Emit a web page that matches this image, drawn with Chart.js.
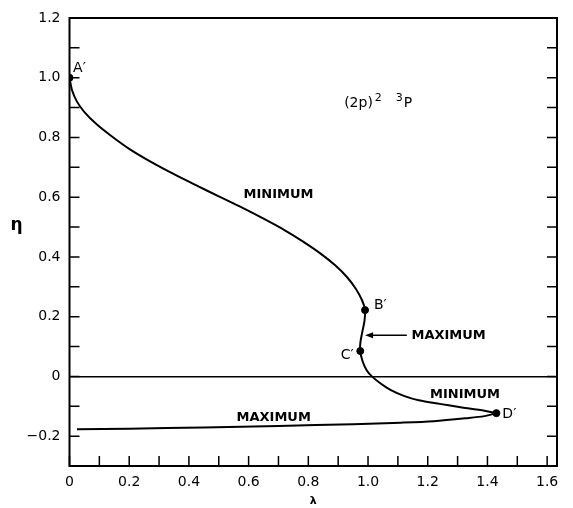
<!DOCTYPE html>
<html>
<head>
<meta charset="utf-8">
<script src="https://cdn.jsdelivr.net/npm/chart.js@4"></script>
<style>
  html, body { margin: 0; padding: 0; background: #fff; }
  canvas { display: block; }
</style>
</head>
<body>
<canvas id="curveChart" width="573" height="508"></canvas>
<script>
// upper branch: A' -> B' -> C' -> D'
const upperLambda = [0, 0.008, 0.025, 0.05, 0.09, 0.14, 0.2, 0.27, 0.35, 0.43, 0.5, 0.58, 0.65, 0.72, 0.78, 0.84, 0.89, 0.93, 0.96, 0.98, 0.99, 0.988, 0.98, 0.974, 0.974, 0.982, 0.996, 1.013, 1.04, 1.075, 1.12, 1.17, 1.24, 1.31, 1.37, 1.43];
const upperEta = [1.0, 0.96, 0.92, 0.885, 0.845, 0.805, 0.762, 0.72, 0.677, 0.637, 0.603, 0.564, 0.528, 0.49, 0.453, 0.412, 0.372, 0.332, 0.292, 0.255, 0.222, 0.185, 0.145, 0.11, 0.085, 0.05, 0.02, 0.0, -0.022, -0.045, -0.065, -0.08, -0.092, -0.103, -0.112, -0.123];

// lower branch: D' back towards lambda = 0
const lowerLambda = [1.43, 1.39, 1.33, 1.22, 1.11, 0.95, 0.7, 0.45, 0.2, 0.025];
const lowerEta = [-0.123, -0.133, -0.14, -0.15, -0.155, -0.16, -0.166, -0.171, -0.175, -0.177];

// marked points
const markerNames = ['A′', 'B′', 'C′', 'D′'];
const markerLambda = [0, 0.99, 0.974, 1.43];
const markerEta = [1.0, 0.222, 0.085, -0.123];

// tick labels
const xTickValues = [0, 0.2, 0.4, 0.6, 0.8, 1.0, 1.2, 1.4, 1.6];
const xTickLabels = ['0', '0.2', '0.4', '0.6', '0.8', '1.0', '1.2', '1.4', '1.6'];
const yTickValues = [-0.2, 0, 0.2, 0.4, 0.6, 0.8, 1.0, 1.2];
const yTickLabels = ['−0.2', '0', '0.2', '0.4', '0.6', '0.8', '1.0', '1.2'];

const toPoints = (xs, ys) => xs.map((v, i) => ({ x: v, y: ys[i] }));
const findLabel = (vals, labels, v) => {
    const i = vals.findIndex(t => Math.abs(t - v) < 1e-6);
    return i < 0 ? '' : labels[i];
};

const FONT = '"DejaVu Sans", "Liberation Sans", sans-serif';

// frame, inward ticks and the text notes
const notes = {
    id: 'notes',
    afterDatasetsDraw(chart) {
        const { ctx, chartArea: a, scales: { x, y } } = chart;
        ctx.save();
        ctx.strokeStyle = '#000';
        ctx.lineWidth = 2;
        ctx.strokeRect(a.left, a.top, a.right - a.left, a.bottom - a.top);

        ctx.lineWidth = 1.5;
        ctx.beginPath();
        y.ticks.forEach(t => {
            const py = y.getPixelForValue(t.value);
            ctx.moveTo(a.left, py); ctx.lineTo(a.left + 10, py);
            ctx.moveTo(a.right, py); ctx.lineTo(a.right - 10, py);
        });
        x.ticks.forEach(t => {
            const px = x.getPixelForValue(t.value);
            ctx.moveTo(px, a.bottom); ctx.lineTo(px, a.bottom - 10);
        });
        ctx.stroke();

        ctx.fillStyle = '#000';
        ctx.textBaseline = 'middle';

        // point names
        ctx.font = '14px ' + FONT;
        ctx.textAlign = 'left';
        ctx.fillText(markerNames[0], x.getPixelForValue(0.012), y.getPixelForValue(1.03));
        ctx.fillText(markerNames[1], x.getPixelForValue(1.02), y.getPixelForValue(0.237));
        ctx.fillText(markerNames[3], x.getPixelForValue(1.45), y.getPixelForValue(-0.128));
        ctx.textAlign = 'right';
        ctx.fillText(markerNames[2], x.getPixelForValue(0.952), y.getPixelForValue(0.072));

        // region labels
        ctx.font = 'bold 13px ' + FONT;
        ctx.textAlign = 'center';
        ctx.fillText('MINIMUM', x.getPixelForValue(0.70), y.getPixelForValue(0.607));
        ctx.fillText('MINIMUM', x.getPixelForValue(1.325), y.getPixelForValue(-0.062));
        ctx.fillText('MAXIMUM', x.getPixelForValue(0.684), y.getPixelForValue(-0.138));
        ctx.fillText('MAXIMUM', x.getPixelForValue(1.27), y.getPixelForValue(0.135));

        // arrow to the maximum stretch between B' and C'
        const ay = y.getPixelForValue(0.138);
        const ax0 = x.getPixelForValue(1.13), ax1 = x.getPixelForValue(0.99);
        ctx.lineWidth = 1.5;
        ctx.beginPath();
        ctx.moveTo(ax0, ay); ctx.lineTo(ax1 + 4, ay);
        ctx.stroke();
        ctx.beginPath();
        ctx.moveTo(ax1, ay); ctx.lineTo(ax1 + 8, ay - 3); ctx.lineTo(ax1 + 8, ay + 3);
        ctx.closePath();
        ctx.fill();

        // state label (2p)^2 ^3P
        ctx.textAlign = 'left';
        let sx = x.getPixelForValue(0.92);
        const sy = y.getPixelForValue(0.915);
        ctx.font = '14px ' + FONT;
        ctx.fillText('(2p)', sx, sy);
        sx += ctx.measureText('(2p)').width + 2;
        ctx.font = '11px ' + FONT;
        ctx.fillText('2', sx, sy - 5);
        sx += ctx.measureText('2').width + 14;
        ctx.fillText('3', sx, sy - 5);
        sx += ctx.measureText('3').width + 1;
        ctx.font = '14px ' + FONT;
        ctx.fillText('P', sx, sy);

        // y title, upright
        ctx.textAlign = 'center';
        ctx.font = 'bold 17px ' + FONT;
        ctx.fillText('η', a.left - 53, y.getPixelForValue(0.505));
        ctx.restore();
    }
};

const ctx1 = document.getElementById('curveChart').getContext('2d');
const curveChart = new Chart(ctx1, {
    type: 'scatter',
    data: {
        datasets: [{
            label: 'upper',
            data: toPoints(upperLambda, upperEta),
            showLine: true,
            borderColor: '#000',
            borderWidth: 2,
            pointRadius: 0,
            tension: 0.3
        }, {
            label: 'lower',
            data: toPoints(lowerLambda, lowerEta),
            showLine: true,
            borderColor: '#000',
            borderWidth: 2,
            pointRadius: 0,
            tension: 0.3
        }, {
            label: 'points',
            data: toPoints(markerLambda, markerEta),
            showLine: false,
            pointRadius: 3.5,
            pointBackgroundColor: '#000',
            pointBorderColor: '#000'
        }]
    },
    options: {
        responsive: false,
        animation: false,
        events: [],
        layout: { padding: { left: 0, right: 16, top: 18, bottom: 0 } },
        plugins: {
            legend: { display: false },
            tooltip: { enabled: false }
        },
        scales: {
            x: {
                type: 'linear',
                min: 0,
                max: 1.633,
                grid: { display: false, drawTicks: false },
                border: { display: false },
                ticks: {
                    stepSize: 0.1,
                    includeBounds: false,
                    autoSkip: false,
                    maxRotation: 0,
                    padding: 8,
                    color: '#000',
                    font: { family: FONT, size: 14 },
                    callback: v => findLabel(xTickValues, xTickLabels, v)
                },
                title: {
                    display: true,
                    text: 'λ',
                    color: '#000',
                    font: { family: FONT, size: 11, weight: 'bold' },
                    padding: { top: 0, bottom: 0 }
                },
                afterFit: s => { s.height = 42; }
            },
            y: {
                min: -0.3,
                max: 1.2,
                grid: {
                    drawTicks: false,
                    color: c => (c.tick && Math.abs(c.tick.value) < 1e-6) ? '#000' : 'rgba(0,0,0,0)',
                    lineWidth: 1.5
                },
                border: { display: false },
                ticks: {
                    stepSize: 0.1,
                    autoSkip: false,
                    padding: 9,
                    color: '#000',
                    font: { family: FONT, size: 14 },
                    callback: v => findLabel(yTickValues, yTickLabels, v)
                },
                afterFit: s => { s.width = 69.5; }
            }
        }
    },
    plugins: [notes]
});
</script>
</body>
</html>
